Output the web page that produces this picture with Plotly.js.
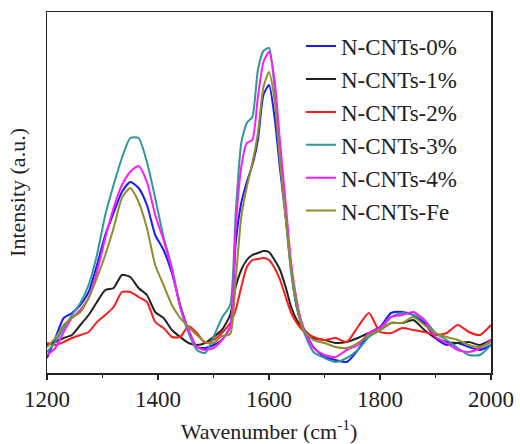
<!DOCTYPE html>
<html>
<head>
<meta charset="utf-8">
<script src="https://cdn.plot.ly/plotly-3.0.1.min.js"></script>
<style>html,body{margin:0;padding:0;background:#fff;}#chart{width:520px;height:444px;}</style>
</head>
<body>
<div id="chart"></div>
<script>
// Wavenumber grid (cm^-1)
const wavenumber = [
  1200,1215,1230,1245,1260,1275,1290,1305,1320,1335,1350,1365,1380,1395,1410,1425,1440,1455,1470,1485,1500,1515,1530,
  1540,1550,1560,1570,1580,1590,1600,1610,1620,1630,1640,1650,1660,
  1680,1700,1720,1740,1760,1780,1800,1820,1840,1860,1880,1900,1920,1940,1960,1980,2000
];
const seriesNames = ['N-CNTs-0%','N-CNTs-1%','N-CNTs-2%','N-CNTs-3%','N-CNTs-4%','N-CNTs-Fe'];

// Intensities (a.u.)
const cnt0 = [
  15,35,55,60,68,81,108,138,160,181,191,185,168,138,123,100,68,43,26,25,28,33,46,
  130,170,191,208,233,278,288,256,203,156,103,66,48,
  26,16,13,11,23,40,46,60,61,58,50,35,28,30,26,23,28
];
const cnt1 = [
  28,31,35,38,48,58,71,83,85,98,96,85,78,61,55,43,36,30,28,30,36,43,58,
  86,103,113,118,120,122,121,113,103,86,66,53,45,
  35,33,30,31,35,40,43,50,50,53,43,35,31,30,31,28,33
];
const cnt2 = [
  30,28,31,35,38,41,51,58,66,81,81,76,71,51,45,36,36,47,40,30,33,40,50,
  63,86,106,113,114,115,113,105,93,76,60,50,43,
  36,33,35,31,46,60,41,40,45,43,41,38,40,48,41,38,48
];
const cnt3 = [
  21,31,45,58,70,88,118,158,188,215,235,235,211,175,136,106,66,40,23,20,36,55,68,
  160,230,250,256,303,322,325,286,223,156,100,66,45,
  21,15,11,15,23,36,43,56,60,58,53,40,33,25,18,18,28
];
const cnt4 = [
  18,25,41,55,63,75,101,135,165,188,201,207,191,158,133,103,66,43,26,23,25,33,46,
  146,206,230,233,276,311,321,293,230,170,110,73,48,
  25,18,16,23,28,40,45,56,58,61,53,36,30,23,21,25,33
];
const cntFe = [
  26,35,48,55,61,75,95,118,145,175,185,171,145,108,88,68,55,46,38,31,30,37,39,
  93,156,186,210,240,286,301,273,210,156,105,70,45,
  33,30,26,25,30,38,43,50,50,56,48,40,36,33,28,26,31
];
const xTickVals = [1200,1400,1600,1800,2000];
const xTickText = ['1200','1400','1600','1800','2000'];

const seriesValues = [cnt0, cnt1, cnt2, cnt3, cnt4, cntFe];
const colors = ['#1a1aff','#222222','#ff1a1a','#2f9898','#ff1aff','#8e8e2c'];

const traces = seriesValues.map((vals, i) => ({
  type: 'scatter', mode: 'lines',
  x: wavenumber, y: vals, name: seriesNames[i],
  legendgroup: 'g' + i,
  line: {color: colors[i], width: 2, shape: 'spline', smoothing: 0.6}
}));

const font = {family: '"Liberation Serif", "Times New Roman", serif', size: 22, color: '#222'};

const layout = {
  width: 520, height: 444,
  margin: {l: 47, r: 29, t: 12, b: 71},
  paper_bgcolor: '#fff', plot_bgcolor: '#fff',
  font: font,
  showlegend: true,
  legend: {
    x: 0.572, xanchor: 'left', y: 0.965, yanchor: 'top',
    bgcolor: 'rgba(0,0,0,0)', borderwidth: 0,
    font: {family: font.family, size: 23, color: '#222'},
    tracegroupgap: 0, traceorder: 'grouped'
  },
  xaxis: {
    range: [1200, 2000],
    tickvals: xTickVals, ticktext: xTickText,
    ticks: 'outside', ticklen: 5, tickwidth: 1.5, tickcolor: '#222',
    minor: {dtick: 100, tick0: 1200, ticks: 'outside', ticklen: 3, tickwidth: 1.5, tickcolor: '#222'},
    showline: true, linecolor: '#222', linewidth: 1.5, mirror: true,
    showgrid: false, zeroline: false,
    tickfont: {family: font.family, size: 23, color: '#222'},
    title: {text: 'Wavenumber (cm<sup>-1</sup>)', font: {family: font.family, size: 22, color: '#222'}, standoff: 12}
  },
  yaxis: {
    range: [0, 361],
    showticklabels: false, ticks: '',
    showline: true, linecolor: '#222', linewidth: 1.5, mirror: true,
    showgrid: false, zeroline: false,
    title: {text: 'Intensity (a.u.)', font: {family: font.family, size: 22, color: '#222'}, standoff: 14}
  }
};

Plotly.newPlot('chart', traces, layout, {staticPlot: true, displayModeBar: false});
</script>
</body>
</html>
